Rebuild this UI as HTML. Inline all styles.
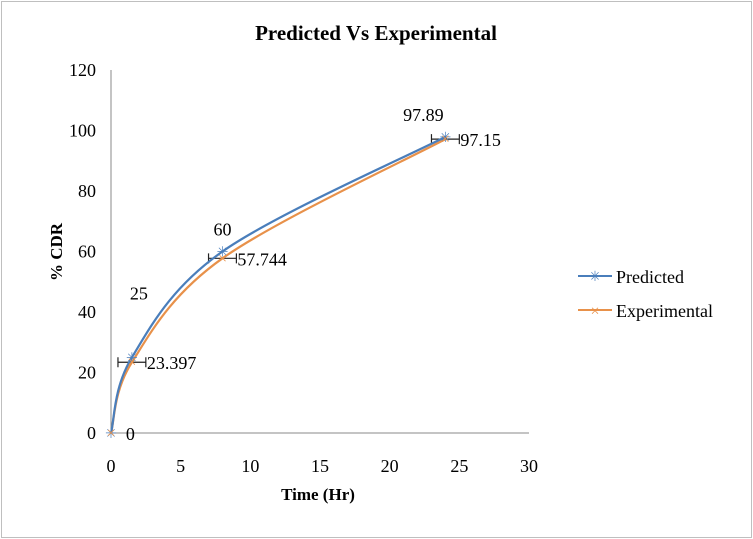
<!DOCTYPE html>
<html><head><meta charset="utf-8"><style>
body{margin:0;background:#fff}
svg{display:block;font-family:"Liberation Serif",serif}
</style></head><body>
<svg id="chart" width="753" height="539">
<rect x="1.5" y="1.5" width="750" height="536" fill="#fff" stroke="#bfbfbf"/>
<text x="376" y="40" text-anchor="middle" font-size="21" font-weight="bold">Predicted Vs Experimental</text>
<g id="axes"></g>
<g id="series"></g>
<text x="318" y="500" text-anchor="middle" font-size="17" font-weight="bold">Time (Hr)</text>
<text transform="translate(62,252) rotate(-90)" text-anchor="middle" font-size="17" font-weight="bold">%  CDR</text>
<g>
<g>
<line x1="578" y1="276" x2="612" y2="276" stroke="#4a7ebb" stroke-width="2"/>
<text x="595" y="281" font-size="14" fill="#4a7ebb" text-anchor="middle">✳</text>
<text x="616" y="283" font-size="18">Predicted</text></g>
<g>
<line x1="578" y1="310" x2="612" y2="310" stroke="#e8914a" stroke-width="2"/>
<text x="595" y="316" font-size="16" fill="#e8914a" text-anchor="middle">×</text>
<text x="616" y="317" font-size="18">Experimental</text></g>
</g>
</svg>
<script>
const times=[0,1.5,8,24];
const predicted=[0,25,60,97.89];
const experimental=[0,23.397,57.744,97.15];
const predictedLabels=["","25","60","97.89"];
const experimentalLabels=["0","23.397","57.744","97.15"];
const xTicks=[0,5,10,15,20,25,30];
const yTicks=[0,20,40,60,80,100,120];
const errX=1;
const NS="http://www.w3.org/2000/svg";
const X=v=>111+v*(418/30), Y=v=>433-v*(363/120);
function mk(tag,attrs,parent){const e=document.createElementNS(NS,tag);for(const k in attrs)e.setAttribute(k,attrs[k]);parent.appendChild(e);return e;}
const ax=document.getElementById('axes'), sg=document.getElementById('series');
let l=mk('line',{x1:111,y1:70,x2:111,y2:433,stroke:'#888'},ax);


l=mk('line',{x1:111,y1:433,x2:529,y2:433,stroke:'#888'},ax);


xTicks.forEach(t=>{const e=mk('text',{x:X(t),y:472,'text-anchor':'middle','font-size':18},ax);e.textContent=t;

});
yTicks.forEach(t=>{const e=mk('text',{x:96,y:Y(t)+6,'text-anchor':'end','font-size':18},ax);e.textContent=t;

});
function spline(xs,ys){const p=xs.map((x,i)=>[X(x),Y(ys[i])]);let d=`M${p[0][0]},${p[0][1]}`;
for(let i=0;i<p.length-1;i++){const p0=p[i-1]||p[i],p1=p[i],p2=p[i+1],p3=p[i+2]||p2;const t=1/3;
d+=` C${p1[0]+(p2[0]-p0[0])*t/2},${p1[1]+(p2[1]-p0[1])*t/2} ${p2[0]-(p3[0]-p1[0])*t/2},${p2[1]-(p3[1]-p1[1])*t/2} ${p2[0]},${p2[1]}`;}
return d;}
times.forEach((t,i)=>{if(i===0)return;const y=Y(experimental[i]);
const g=mk('path',{d:`M${X(t-errX)},${y}H${X(t+errX)}M${X(t-errX)},${y-5}v10M${X(t+errX)},${y-5}v10`,stroke:'#222','stroke-width':1.2,fill:'none'},sg);

});
let p=mk('path',{d:spline(times,experimental),stroke:'#e8914a','stroke-width':2.2,fill:'none'},sg);


p=mk('path',{d:spline(times,predicted),stroke:'#4a7ebb','stroke-width':2.2,fill:'none'},sg);


times.forEach((t,i)=>{
let m=mk('text',{x:X(t),y:Y(predicted[i])+5,'text-anchor':'middle','font-size':14,fill:'#4a7ebb'},sg);m.textContent='✳';


m=mk('text',{x:X(t),y:Y(experimental[i])+5,'text-anchor':'middle','font-size':16,fill:'#e8914a'},sg);m.textContent='×';


if(predictedLabels[i]){m=mk('text',{x:X(t)+(i===3?-22:i===1?7:0),y:Y(predicted[i])-(i===1?58:16),'text-anchor':'middle','font-size':18},sg);m.textContent=predictedLabels[i];

}
m=mk('text',{x:X(t+errX)+1,y:Y(experimental[i])+7,'font-size':18},sg);m.textContent=experimentalLabels[i];


});
</script>
</body></html>
